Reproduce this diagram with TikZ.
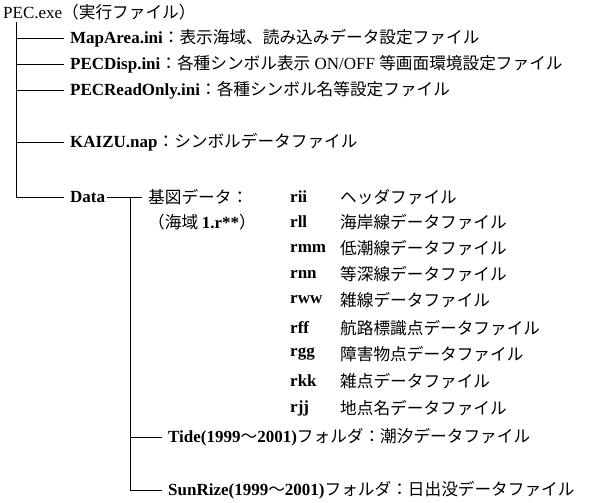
\documentclass[tikz,border=0pt]{standalone}
\usepackage{fontspec}
\setmainfont{Liberation Serif}
\newfontfamily\cjk{Noto Sans CJK JP}[Scale=0.98]
\begin{document}
\begin{tikzpicture}[x=1pt,y=-1pt,
  lbl/.style={anchor=west,inner sep=0pt,font=\fontsize{17}{19}\selectfont},
  ln/.style={line width=0.9pt,black}]
\useasboundingbox (0,0) rectangle (600,503);
\node[lbl] (pec) at (3,12) {PEC.exe\cjk（実行ファイル）};
\node[lbl] (map) at (70,38) {\textbf{MapArea.ini}\cjk：表示海域、読み込みデータ設定ファイル};
\node[lbl] (disp) at (70,64) {\textbf{PECDisp.ini}\cjk：各種シンボル表示\rmfamily\ ON/OFF\ \cjk 等画面環境設定ファイル};
\node[lbl] (ro) at (70,90) {\textbf{PECReadOnly.ini}\cjk：各種シンボル名等設定ファイル};
\node[lbl] (kz) at (70,142) {\textbf{KAIZU.nap}\cjk：シンボルデータファイル};
\node[lbl] (data) at (70,197) {\textbf{Data}};
\node[lbl] (kihon) at (148,197) {\cjk 基図データ：};
\node[lbl] (kaiiki) at (148,222) {\cjk（海域 \rmfamily\textbf{1.r**}\cjk）};
\coordinate (t0) at (16,22);
\foreach \n/\y in {map/38,disp/64,ro/90,kz/142}{
  \draw[ln] (16,\y) -- ([xshift=-6pt]\n.west);
}
\draw[ln] (t0) -- (16,197) -- ([xshift=-6pt]data.west);
\draw[ln] ([xshift=2pt]data.east) -- ([xshift=-6pt]kihon.west);
\foreach \c/\t/\y in {rii/ヘッダファイル/197, rll/海岸線データファイル/222, rmm/低潮線データファイル/248, rnn/等深線データファイル/274, rww/雑線データファイル/300, rff/航路標識点データファイル/328, rgg/障害物点データファイル/354, rkk/雑点データファイル/381, rjj/地点名データファイル/408}{
  \node[lbl] (c\c) at (290,\y) {\textbf{\c}};
  \node[lbl] (d\c) at (340,\y) {\cjk \t};
}
\node[lbl] (tide) at (168,437) {\textbf{Tide(1999}\cjk～\rmfamily\textbf{2001)}\cjk フォルダ：潮汐データファイル};
\node[lbl] (sun) at (168,490) {\textbf{SunRize(1999}\cjk～\rmfamily\textbf{2001)}\cjk フォルダ：日出没データファイル};
\draw[ln] (130,197) -- (130,490) -- ([xshift=-6pt]sun.west);
\draw[ln] (130,437) -- ([xshift=-6pt]tide.west);
\end{tikzpicture}
\end{document}
